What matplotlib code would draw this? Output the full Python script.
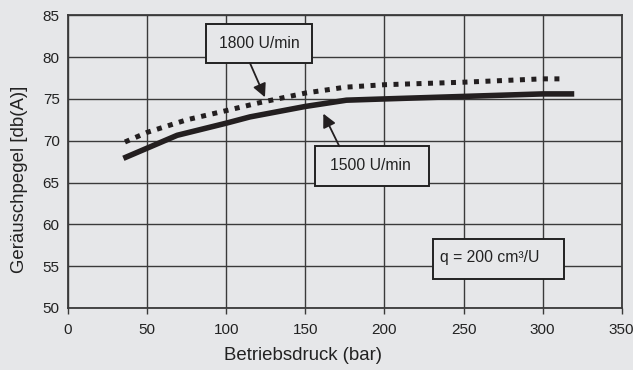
import matplotlib
matplotlib.use("Agg")
import matplotlib.pyplot as plt
from matplotlib.patches import Rectangle

plt.rcParams['font.family'] = ['Liberation Sans', 'DejaVu Sans']

# Betriebsdruck (bar) vs. Geräuschpegel [db(A)]
pressure_1500 = [35, 69, 100, 115, 150, 176, 200, 250, 300, 320]
noise_1500 = [67.9, 70.65, 72.1, 72.85, 74.1, 74.85, 75.0, 75.3, 75.6, 75.6]

pressure_1800 = [36, 50, 75, 100, 121, 150, 175, 200, 250, 300, 311]
noise_1800 = [69.85, 71.0, 72.5, 73.6, 74.55, 75.7, 76.4, 76.7, 77.0, 77.4, 77.4]

x_ticks = [0, 50, 100, 150, 200, 250, 300, 350]
y_ticks = [50, 55, 60, 65, 70, 75, 80, 85]

label_1500 = "1500 U/min"
label_1800 = "1800 U/min"
label_q = "q = 200 cm³/U"

bg = "#e6e7e9"
ink = "#231f20"
grid = "#3a3a3a"
text_color = "#222222"

fig = plt.figure(figsize=(6.33, 3.70), dpi=100, facecolor=bg)
ax = fig.add_axes([68 / 633, 1 - 308 / 370, 553.7 / 633, 292.7 / 370])
ax.set_facecolor(bg)

ax.set_xlim(0, 350)
ax.set_ylim(50, 85)
ax.set_xticks(x_ticks)
ax.set_yticks(y_ticks)
ax.grid(True, color=grid, linewidth=1.0, zorder=1)
ax.set_axisbelow(True)
for s in ax.spines.values():
    s.set_color(grid)
    s.set_linewidth(1.3)

ax.tick_params(axis='x', length=4.5, width=1.0, color=grid, pad=6,
               labelsize=11, labelcolor=text_color)
ax.tick_params(axis='y', length=0, pad=6, labelsize=11, labelcolor=text_color)

ax.plot(pressure_1500, noise_1500, color=ink, linewidth=4.0,
        solid_capstyle='butt', zorder=3)
ax.plot(pressure_1800, noise_1800, color=ink, linewidth=3.6,
        dashes=(1.0, 1.3), dash_capstyle='butt', zorder=3)

ax.set_xlabel("Betriebsdruck (bar)", fontsize=13.4, color=text_color)
ax.xaxis.set_label_coords(0.424, -0.133)
ax.set_ylabel("Geräuschpegel [db(A)]", fontsize=13.4, color=text_color)
ax.yaxis.set_label_coords(-0.072, 0.44)


def label_box(x0, x1, y0, y1, tx, ty, text, ha='center'):
    ax.add_patch(Rectangle((x0, y0), x1 - x0, y1 - y0, facecolor=bg,
                           edgecolor=text_color, linewidth=1.4, zorder=4))
    ax.text(tx, ty, text, ha=ha, va='center', fontsize=11.3,
            color=text_color, zorder=5)


label_box(87.1, 154.4, 79.3, 84.0, 120.7, 81.65, label_1800)
label_box(156.1, 228.4, 64.55, 69.34, 190.9, 67.06, label_1500)
label_box(230.9, 313.7, 53.52, 58.3, 235.2, 56.0, label_q, ha='left')

arrow = dict(arrowstyle='-|>', color=ink, lw=1.3, mutation_scale=20,
             shrinkA=0, shrinkB=0)
ax.annotate("", xy=(124.5, 75.2), xytext=(115.0, 79.3), arrowprops=arrow,
            zorder=4)
ax.annotate("", xy=(161.4, 73.24), xytext=(171.5, 69.34), arrowprops=arrow,
            zorder=4)

fig.savefig("out.png", dpi=100, facecolor=bg)
